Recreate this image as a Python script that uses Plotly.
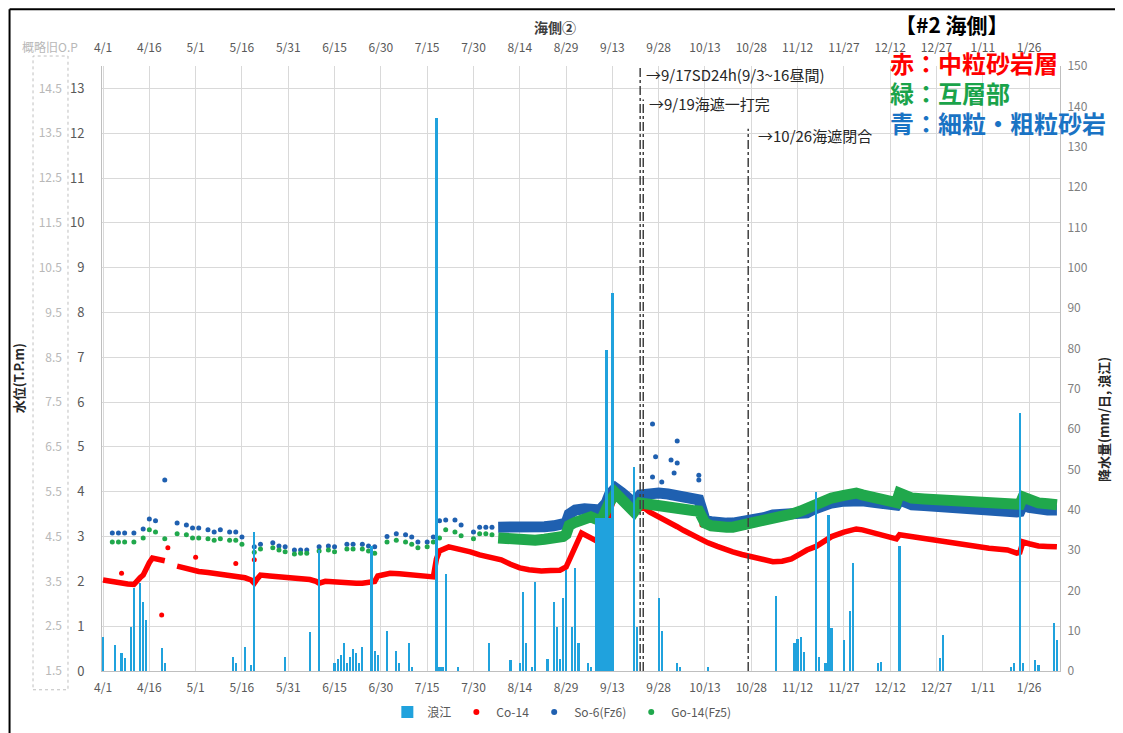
import pandas as pd
import plotly.graph_objects as go

START = pd.Timestamp("2022-04-01")
DAY_MS = 86400000

# 浪江 daily rainfall (mm/day), days counted from 4/1
rain_day = [0, 4, 6, 7, 9, 10, 12, 13, 14, 19, 20, 42, 43, 46, 48, 49, 59, 67, 70, 75,
            76, 77, 78, 79, 80, 81, 82, 83, 84, 87, 88, 89, 92, 95, 96, 99, 100, 108, 109, 110,
            111, 115, 125, 132, 135, 136, 137, 139, 140, 144, 146, 147, 148, 149, 150, 152, 153, 154, 157, 158,
            160, 161, 162, 163, 164, 165, 172, 173, 180, 181, 186, 187, 196, 218, 224, 225, 226, 227, 231, 232,
            234, 235, 236, 240, 242, 243, 251, 252, 258, 271, 272, 294, 295, 297, 298, 302, 303, 308, 309]
rain_mm = [8.5, 6.4, 4.5, 3.2, 11, 20.5, 21.8, 17, 12.6, 5.7, 2, 3.5, 2, 6, 1.5, 34.5, 3.5, 9.6, 30, 2,
           3, 4, 7, 2, 3.5, 5.5, 4.5, 2, 6, 31, 5, 4, 10, 5, 2, 7, 1, 137, 1, 1,
           24, 1, 7, 2.7, 2, 19.6, 7, 1, 22, 3, 17, 11, 3, 18, 25, 11, 25.5, 7, 2, 1,
           38, 38, 38, 79.6, 38, 93.7, 50.6, 11, 18, 10, 2, 1, 1, 18.6, 7, 8, 8.4, 4.7, 44.4, 3.5,
           2, 38.7, 10.7, 7.7, 15, 26.8, 2, 2.2, 31, 3.2, 9, 1, 2, 64, 2, 2.7, 1.5, 12, 7.7]

# Co-14 (red), T.P.m
co14_day = [0, 2, 4, 6, 8, 10, 11, 12, 13, 14, 15, 16, 18, 20, 22, 24, 26, 28, 31, 34,
            36, 38, 41, 44, 46, 48, 49, 50, 51, 54, 57, 60, 64, 67, 69, 70, 72, 75, 77, 80,
            82, 84, 86, 88, 89, 91, 93, 96, 98, 101, 103, 105, 107, 108, 109, 112, 116, 119, 122, 126,
            129, 132, 135, 138, 142, 145, 148, 150, 152, 154, 155, 158, 161, 163, 164, 166, 169, 172, 175, 177,
            180, 183, 186, 188, 191, 193, 196, 199, 202, 204, 207, 210, 214, 217, 220, 223, 226, 228, 231, 233,
            236, 240, 244, 246, 249, 252, 255, 257, 258, 262, 266, 271, 276, 282, 287, 293, 296, 297, 298, 300,
            303, 306, 309]
co14_lv = [2.03, 2.0, 1.98, 1.96, 1.94, 1.93, 2.03, 2.08, 2.14, 2.3, 2.42, 2.52, 2.48, 2.46, None, 2.34, 2.3, 2.28, 2.22, 2.2,
           2.18, 2.16, 2.14, 2.1, 2.08, 2.03, 1.96, 2.06, 2.14, 2.12, 2.1, 2.09, 2.08, 2.04, 2.0, 1.96, 2.0, 1.98, 1.97, 1.96,
           1.96, 1.96, 1.97, 2.0, 2.12, 2.16, 2.18, 2.17, 2.16, 2.14, 2.12, 2.11, 2.1, 2.5, 2.68, 2.77, 2.72, 2.66, 2.59, 2.52,
           2.48, 2.38, 2.3, 2.26, 2.23, 2.24, 2.25, 2.32, 2.6, 2.95, 3.08, 2.97, 2.86, 3.19, 3.53, 3.95, 3.7, 3.55, 3.66, 3.55,
           3.45, 3.33, 3.22, 3.14, 3.03, 2.95, 2.86, 2.78, 2.7, 2.66, 2.6, 2.55, 2.48, 2.44, 2.45, 2.5, 2.62, 2.7, 2.78, 2.86,
           3.0, 3.1, 3.17, 3.15, 3.1, 3.03, 2.97, 2.95, 3.04, 3.0, 2.95, 2.88, 2.83, 2.77, 2.74, 2.7, 2.63, 2.65, 2.88, 2.84,
           2.79, 2.78, 2.77]
co14_out_day = [6, 19, 21, 30, 43, 49, 194]
co14_out_lv = [2.18, 1.25, 2.75, 2.54, 2.4, 2.48, 3.26]

# So-6 / Go-14 manual readings (sparse dots) before the logger started
dot_day = [3, 5, 7, 10, 13, 15, 17, 20, 24, 27, 29, 31, 34, 36, 38, 41, 43, 45, 49, 51,
           55, 57, 59, 62, 64, 66, 70, 73, 75, 79, 81, 84, 86, 88, 92, 95, 98, 100, 102, 105,
           107, 109, 111, 114, 116, 120, 122, 124, 126]
so6_dot_lv = [3.08, 3.08, 3.08, 3.08, 3.17, 3.39, 3.35, 4.26, 3.3, 3.26, 3.19, 3.19, 3.15, 3.1, 3.15, 3.1, 3.1, 2.99, 2.77, 2.83,
              2.86, 2.79, 2.77, 2.7, 2.7, 2.7, 2.77, 2.79, 2.77, 2.83, 2.83, 2.83, 2.79, 2.77, 3.0, 3.06, 3.04, 2.99, 2.88, 2.88,
              2.99, 3.35, 3.37, 3.37, 3.26, 3.1, 3.21, 3.21, 3.21]
go14_dot_lv = [2.88, 2.88, 2.88, 2.88, 2.97, 3.15, 3.1, 2.95, 3.06, 3.04, 2.97, 2.97, 2.95, 2.92, 2.95, 2.92, 2.92, 2.83, 2.65, 2.72,
               2.75, 2.7, 2.66, 2.61, 2.63, 2.63, 2.68, 2.7, 2.66, 2.72, 2.72, 2.72, 2.68, 2.63, 2.88, 2.92, 2.88, 2.83, 2.75, 2.77,
               2.88, 2.97, 3.15, 3.1, 3.02, 2.95, 3.06, 3.06, 3.04]
so6_spike_day = [178, 179, 181, 184, 185, 186, 186, 193, 193, 178]
so6_spike_lv = [5.51, 4.78, 4.22, 4.71, 4.42, 5.13, 4.64, 4.37, 4.26, 4.33]

# logger period (hourly data shown as a band)
band_day = [128, 131, 134, 137, 140, 143, 146, 149, 150, 151, 153, 156, 158, 160, 161, 162, 163, 164, 166, 168,
            170, 172, 174, 177, 180, 183, 186, 188, 191, 193, 194, 195, 197, 199, 202, 204, 207, 210, 214, 217,
            220, 223, 226, 228, 230, 232, 234, 236, 240, 244, 246, 249, 252, 255, 257, 258, 260, 262, 266, 271,
            276, 282, 287, 293, 296, 297, 298, 300, 303, 306, 309]
so6_lv = [3.21, 3.2, 3.2, 3.21, 3.21, 3.22, 3.24, 3.26, 3.3, 3.5, 3.59, 3.62, 3.64, 3.6, 3.6, 3.66, 3.75, 3.93, 4.08, 3.98,
          3.88, 3.75, 3.93, 3.97, 3.97, 3.95, 3.9, 3.86, 3.84, 3.82, 3.6, 3.37, 3.33, 3.3, 3.3, 3.3, 3.32, 3.35, 3.42, 3.48,
          3.49, 3.5, 3.52, 3.53, 3.6, 3.66, 3.71, 3.75, 3.79, 3.82, 3.8, 3.77, 3.74, 3.71, 3.7, 3.82, 3.76, 3.71, 3.69, 3.66,
          3.62, 3.59, 3.57, 3.55, 3.55, 3.56, 3.71, 3.65, 3.59, 3.59, 3.59]
go14_lv = [2.97, 2.95, 2.93, 2.93, 2.92, 2.94, 2.96, 3.0, 3.05, 3.25, 3.32, 3.38, 3.44, 3.38, 3.37, 3.45, 3.55, 3.75, 3.97, 3.85,
           3.7, 3.55, 3.75, 3.71, 3.68, 3.64, 3.61, 3.59, 3.58, 3.57, 3.4, 3.3, 3.24, 3.21, 3.21, 3.21, 3.25, 3.3, 3.36, 3.41,
           3.45, 3.5, 3.57, 3.64, 3.7, 3.76, 3.82, 3.86, 3.92, 3.97, 3.93, 3.88, 3.82, 3.77, 3.76, 3.97, 3.9, 3.86, 3.84, 3.82,
           3.78, 3.75, 3.73, 3.71, 3.71, 3.72, 3.88, 3.8, 3.75, 3.73, 3.71]

# event lines (day, top of line in T.P.m) and their notes
event_day = [174, 175, 209]
event_top = [13.5, 12.75, 12.1]
event_text = ["→9/17SD24h(9/3~16昼間)", "→9/19海遮一打完", "→10/26海遮閉合"]
event_text_day = [175.3, 176.3, 211.5]
event_text_lv = [13.3, 12.66, 11.96]

RED = "#ff0000"
BLUE = "#1f60b0"
GREEN = "#20a84c"
RAIN = "#20a2dd"
FONT = "Noto Sans CJK JP, Noto Sans, sans-serif"


def to_dates(days):
    return [START + pd.Timedelta(days=d) for d in days]


fig = go.Figure()

# water levels on left axis
fig.add_trace(go.Scatter(x=to_dates(co14_day), y=co14_lv, mode="lines", line=dict(color=RED, width=5.5),
                         connectgaps=False, showlegend=False))
fig.add_trace(go.Scatter(x=to_dates(co14_out_day), y=co14_out_lv, mode="markers",
                         marker=dict(color=RED, size=5), showlegend=False))
fig.add_trace(go.Scatter(x=to_dates(dot_day + so6_spike_day), y=so6_dot_lv + so6_spike_lv, mode="markers",
                         marker=dict(color=BLUE, size=5), showlegend=False))
fig.add_trace(go.Scatter(x=to_dates(band_day), y=so6_lv, mode="lines", line=dict(color=BLUE, width=11),
                         showlegend=False))
fig.add_trace(go.Scatter(x=to_dates(dot_day), y=go14_dot_lv, mode="markers",
                         marker=dict(color=GREEN, size=5), showlegend=False))
fig.add_trace(go.Scatter(x=to_dates(band_day), y=go14_lv, mode="lines", line=dict(color=GREEN, width=11),
                         showlegend=False))

# rain on right axis (drawn above, like the excel secondary axis); the 9/8-9/13 run is drawn solid
bar_w = [DAY_MS if 160 <= d <= 165 else 0.72 * DAY_MS for d in rain_day]
fig.add_trace(go.Bar(x=to_dates(rain_day), y=rain_mm, yaxis="y2", name="浪江",
                     marker=dict(color=RAIN, line=dict(width=0)), width=bar_w))

# legend entries
for nm, col in [("Co-14", RED), ("So-6(Fz6)", BLUE), ("Go-14(Fz5)", GREEN)]:
    fig.add_trace(go.Scatter(x=[None], y=[None], mode="markers", name=nm,
                             marker=dict(color=col, size=6)))

# dummy traces so the extra axes get drawn
fig.add_trace(go.Scatter(x=[START], y=[None], xaxis="x2", showlegend=False, hoverinfo="skip"))
fig.add_trace(go.Scatter(x=[START], y=[None], yaxis="y3", showlegend=False, hoverinfo="skip"))

x_range = [START - pd.Timedelta(hours=8), START + pd.Timedelta(days=310)]
date_axis = dict(type="date", range=x_range, tick0=START, dtick=15 * DAY_MS, tickformat="%-m/%-d",
                 tickfont=dict(size=12, color="#595959"), automargin=False)

# the page body adds 8px, so the figure is 8px smaller each way
fig.update_layout(
    width=1115, height=725,
    margin=dict(l=94, r=63, t=58, b=62),
    paper_bgcolor="white", plot_bgcolor="white",
    font=dict(family=FONT, size=12, color="#595959"),
    bargap=0,
    xaxis=dict(**date_axis, showgrid=True, gridcolor="#d9d9d9", showline=True, linecolor="#bfbfbf",
               ticklabelstandoff=6, zeroline=False),
    xaxis2=dict(**date_axis, overlaying="x", side="top", matches="x", showgrid=False,
                showline=False, ticklabelstandoff=11),
    yaxis=dict(range=[0, 13.5], dtick=1, showgrid=True, gridcolor="#d9d9d9", showline=True,
               linecolor="#bfbfbf", zeroline=False, tickfont=dict(size=13, color="#595959"),
               ticklabelstandoff=14, automargin=False),
    yaxis2=dict(range=[0, 150], dtick=10, overlaying="y", side="right", showgrid=False, showline=True,
                linecolor="#bfbfbf", zeroline=False, tickfont=dict(size=12, color="#7f7f7f"),
                ticklabelstandoff=4, automargin=False),
    yaxis3=dict(range=[1.5, 15], tick0=1.5, dtick=1, overlaying="y", side="left", anchor="free",
                position=0, shift=-40, showgrid=False, showline=False, zeroline=False, automargin=False,
                tickfont=dict(size=12, color="#b8b8b8")),
    legend=dict(orientation="h", x=0.48, xanchor="center", yref="container", y=0.029, yanchor="middle",
                font=dict(size=12, color="#595959"), itemwidth=30),
)

# event lines
for d, top in zip(event_day, event_top):
    fig.add_shape(type="line", xref="x", yref="y", x0=START + pd.Timedelta(days=d), x1=START + pd.Timedelta(days=d),
                  y0=0, y1=top, line=dict(color="#404040", width=1.5, dash="dashdot"), layer="above")
for d, lv, t in zip(event_text_day, event_text_lv, event_text):
    fig.add_annotation(x=START + pd.Timedelta(days=d), y=lv, xref="x", yref="y", text=t, showarrow=False,
                       xanchor="left", yanchor="middle", font=dict(size=15, color="#262626"))

# dashed box around the old O.P. scale
fig.add_shape(type="rect", xref="paper", yref="paper", x0=-0.072, x1=-0.0355, y0=-0.031, y1=1.0165,
              line=dict(color="#bfbfbf", width=1, dash="dot"))
# outer frame (left and top edges)
fig.add_shape(type="line", xref="paper", yref="paper", x0=-0.0965, x1=-0.0965, y0=-0.12, y1=1.094,
              line=dict(color="black", width=2))
fig.add_shape(type="line", xref="paper", yref="paper", x0=-0.0965, x1=1.07, y0=1.094, y1=1.094,
              line=dict(color="black", width=2))

fig.add_annotation(x=-0.054, y=1.033, xref="paper", yref="paper", text="概略旧O.P", showarrow=False,
                   xanchor="center", yanchor="middle", font=dict(size=12, color="#b8b8b8"))
fig.add_annotation(x=0.473, y=1.064, xref="paper", yref="paper", text="<b>海側②</b>", showarrow=False,
                   xanchor="center", yanchor="middle", font=dict(size=14, color="#404040"))
fig.add_annotation(x=-0.0877, y=0.484, xref="paper", yref="paper", text="<b>水位(T.P.m)</b>", showarrow=False,
                   xanchor="center", yanchor="middle", textangle=-90, font=dict(size=13, color="#262626"))
fig.add_annotation(x=1.046, y=0.415, xref="paper", yref="paper", text="<b>降水量(mm/日, 浪江)</b>",
                   showarrow=False, xanchor="center", yanchor="middle", textangle=-90,
                   font=dict(size=13, color="#262626"))

# key in the top right corner
fig.add_annotation(x=0.8257, y=1.069, xref="paper", yref="paper", text="<b>【#2 海側】</b>", showarrow=False,
                   xanchor="left", yanchor="middle", font=dict(size=21, color="black"))
for txt, col, yy in [("赤：中粒砂岩層", "#ff0000", 1.0066), ("緑：互層部", "#1aa34a", 0.957),
                     ("青：細粒・粗粒砂岩", "#1a73c4", 0.907)]:
    fig.add_annotation(x=0.8205, y=yy, xref="paper", yref="paper", text="<b>" + txt + "</b>", showarrow=False,
                       xanchor="left", yanchor="middle", font=dict(size=24, color=col))

fig.write_html("out.html")
